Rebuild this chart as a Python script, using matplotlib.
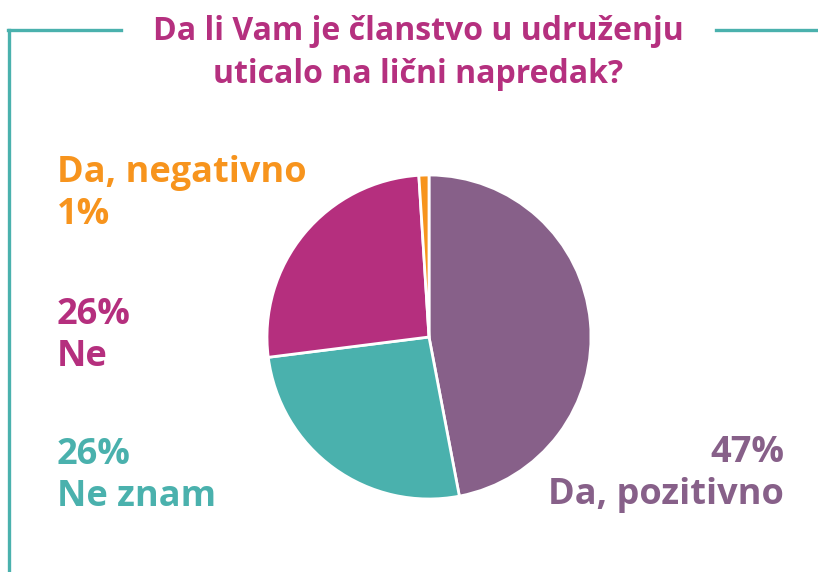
import matplotlib.pyplot as plt
from matplotlib.lines import Line2D

# survey answers, clockwise from the top
answers = ["Da, pozitivno", "Ne znam", "Ne", "Da, negativno"]
shares = [47, 26, 26, 1]
colors = ["#876089", "#4AB1AD", "#B52F7E", "#F7941D"]

title = "Da li Vam je članstvo u udruženju\nuticalo na lični napredak?"
title_color = "#B5307F"
frame_color = "#4AB1AD"

W, H = 818, 572
plt.rcParams["font.family"] = ["Open Sans", "DejaVu Sans"]

fig = plt.figure(figsize=(W / 100, H / 100), dpi=100)


def fx(px):
    return px / W


def fy(py):
    return 1 - py / H


# teal frame: left side plus top line broken by the title
fw = 2.4
fig.add_artist(Line2D([fx(9), fx(9)], [fy(30), fy(H + 5)], color=frame_color, lw=fw))
fig.add_artist(Line2D([fx(8), fx(121)], [fy(30), fy(30)], color=frame_color, lw=fw))
fig.add_artist(Line2D([fx(716), fx(W + 5)], [fy(30), fy(30)], color=frame_color, lw=fw))

fig.text(fx(418), fy(53), title, ha="center", va="center", color=title_color,
         fontsize=23, fontweight="bold", linespacing=1.4)

# pie
cx, cy, r = 429, 337, 162
ax = fig.add_axes([fx(cx - r), fy(cy + r), 2 * r / W, 2 * r / H])
ax.pie(shares, colors=colors, startangle=90, counterclock=False,
       wedgeprops=dict(edgecolor="white", linewidth=2))
ax.set_xlim(-1, 1)
ax.set_ylim(-1, 1)
ax.set_aspect("auto")
ax.axis("off")

lab = dict(fontsize=26, fontweight="bold", linespacing=1.2)

fig.text(fx(57), fy(194), f"{answers[3]}\n{shares[3]}%", ha="left", va="center",
         color=colors[3], **lab)
fig.text(fx(57), fy(336), f"{shares[2]}%\n{answers[2]}", ha="left", va="center",
         color=colors[2], **lab)
fig.text(fx(57), fy(476), f"{shares[1]}%\n{answers[1]}", ha="left", va="center",
         color=colors[1], **lab)
fig.text(fx(784), fy(474), f"{shares[0]}%\n{answers[0]}", ha="right", va="center",
         color=colors[0], multialignment="right", **lab)

fig.savefig("out.png", dpi=100, facecolor="white")
